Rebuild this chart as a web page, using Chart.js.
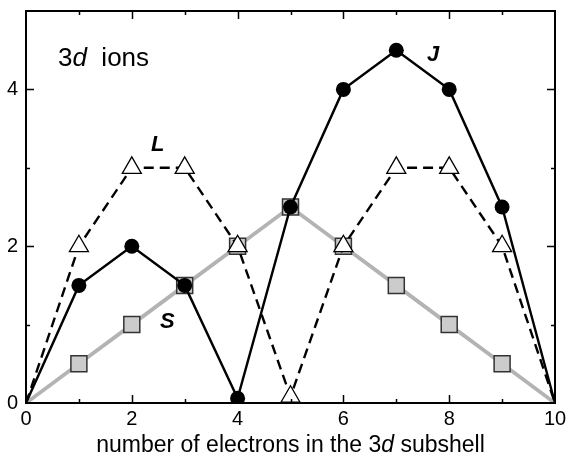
<!DOCTYPE html>
<html>
<head>
<meta charset="utf-8">
<script src="https://cdn.jsdelivr.net/npm/chart.js@4/dist/chart.umd.min.js"></script>
<style>
  html, body { margin: 0; padding: 0; background: #fff; }
  #wrap { width: 567px; height: 465px; }
</style>
</head>
<body>
<div id="wrap"><canvas id="c" width="567" height="465"></canvas></div>
<script>
// number of 3d electrons
const electrons = [0, 1, 2, 3, 4, 5, 6, 7, 8, 9, 10];
// ground-state quantum numbers of 3d ions (Hund's rules)
const totalJ = [0, 1.5, 2, 1.5, 0.06, 2.5, 4, 4.5, 4, 2.5, 0];
const orbitalL = [0, 2, 3, 3, 2, 0.08, 2, 3, 3, 2, 0];
const spinS = [0, 0.5, 1, 1.5, 2, 2.5, 2, 1.5, 1, 0.5, 0];

const xTickLabels = [0, 2, 4, 6, 8, 10];
const yTickLabels = [0, 2, 4];
const xTickMarks = [1, 2, 3, 4, 5, 6, 7, 8, 9];
const yTickMarks = [1, 2, 3, 4];

const FONT = '"Liberation Sans", Arial, Helvetica, sans-serif';

const pts = vals => electrons.map((e, i) => ({ x: e, y: vals[i] }));
// no marker at the empty and the full shell
const endless = r => ctx => (ctx.raw && (ctx.raw.x === 0 || ctx.raw.x === 10)) ? 0 : r;

// frame with inward ticks on all four sides, plus the text inside the plot
const frameAndText = {
  id: 'frameAndText',
  afterDraw(chart) {
    const { ctx, chartArea: a, scales: { x, y } } = chart;
    ctx.save();
    ctx.strokeStyle = '#000';
    ctx.lineWidth = 1.5;
    ctx.beginPath();
    xTickMarks.forEach(v => {
      const px = Math.round(x.getPixelForValue(v)) + 0.5;
      const len = v % 2 === 0 ? 8 : 4;
      ctx.moveTo(px, a.bottom); ctx.lineTo(px, a.bottom - len);
      ctx.moveTo(px, a.top); ctx.lineTo(px, a.top + len);
    });
    yTickMarks.forEach(v => {
      const py = Math.round(y.getPixelForValue(v)) + 0.5;
      const len = v % 2 === 0 ? 8 : 4;
      ctx.moveTo(a.left, py); ctx.lineTo(a.left + len, py);
      ctx.moveTo(a.right, py); ctx.lineTo(a.right - len, py);
    });
    ctx.stroke();
    ctx.lineWidth = 2;
    ctx.strokeRect(a.left, a.top, a.right - a.left, a.bottom - a.top);

    ctx.fillStyle = '#000';
    ctx.textBaseline = 'alphabetic';
    ctx.textAlign = 'left';

    // mixed upright / italic text runs
    const runs = (parts, size, x0, base, align) => {
      let w = 0;
      parts.forEach(p => { ctx.font = (p[1] ? 'italic ' : '') + size + 'px ' + FONT; w += ctx.measureText(p[0]).width; });
      let cx = align === 'center' ? x0 - w / 2 : x0;
      parts.forEach(p => {
        ctx.font = (p[1] ? 'italic ' : '') + size + 'px ' + FONT;
        ctx.fillText(p[0], cx, base);
        cx += ctx.measureText(p[0]).width;
      });
    };
    runs([['3', false], ['d', true], ['  ions', false]], 26, 58, 66, 'left');
    runs([['number of electrons in the 3', false], ['d', true], [' subshell', false]], 23,
         (a.left + a.right) / 2, 452, 'center');

    ctx.font = 'italic bold 22px ' + FONT;
    ctx.fillText('J', 427, 61);
    ctx.fillText('L', 151, 151);
    ctx.fillText('S', 160, 328);
    ctx.restore();
  }
};

new Chart(document.getElementById('c'), {
  type: 'line',
  data: {
    datasets: [
      {
        label: 'J',
        data: pts(totalJ),
        order: 1,
        borderColor: '#000',
        borderWidth: 2.4,
        pointStyle: 'circle',
        pointRadius: endless(7.5),
        pointBackgroundColor: '#000',
        pointBorderColor: '#000',
        pointBorderWidth: 0,
        tension: 0,
        clip: 0
      },
      {
        label: 'L',
        data: pts(orbitalL),
        order: 2,
        borderColor: '#000',
        borderWidth: 2.4,
        borderDash: [10, 6],
        pointStyle: 'triangle',
        pointRadius: endless(11),
        pointBackgroundColor: '#fff',
        pointBorderColor: '#000',
        pointBorderWidth: 1.3,
        tension: 0,
        clip: 0
      },
      {
        label: 'S',
        data: pts(spinS),
        order: 3,
        borderColor: '#b3b3b3',
        borderWidth: 3.8,
        pointStyle: 'rect',
        pointRadius: endless(11.3),
        pointBackgroundColor: '#cccccc',
        pointBorderColor: '#333',
        pointBorderWidth: 1.5,
        tension: 0,
        clip: 0
      }
    ]
  },
  options: {
    responsive: false,
    animation: false,
    events: [],
    layout: { padding: { top: 11, right: 12, left: 0, bottom: 0 } },
    plugins: { legend: { display: false }, tooltip: { enabled: false } },
    scales: {
      x: {
        type: 'linear',
        min: 0, max: 10,
        grid: { display: false, drawTicks: false },
        border: { display: false },
        afterBuildTicks: s => { s.ticks = xTickLabels.map(v => ({ value: v })); },
        afterFit: s => { s.height = 62; s.paddingLeft = 0; s.paddingRight = 0; },
        ticks: { color: '#000', padding: 4, font: { family: FONT, size: 20 }, maxRotation: 0, autoSkip: false }
      },
      y: {
        type: 'linear',
        min: 0, max: 5,
        grid: { display: false, drawTicks: false },
        border: { display: false },
        afterBuildTicks: s => { s.ticks = yTickLabels.map(v => ({ value: v })); },
        afterFit: s => { s.width = 26; s.paddingTop = 0; s.paddingBottom = 0; },
        ticks: { color: '#000', padding: 8, font: { family: FONT, size: 20 } }
      }
    }
  },
  plugins: [frameAndText]
});
</script>
</body>
</html>
